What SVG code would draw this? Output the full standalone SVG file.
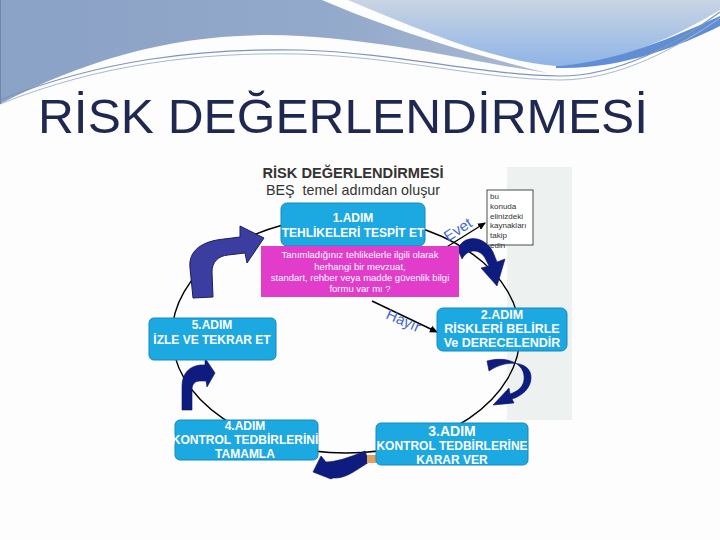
<svg xmlns="http://www.w3.org/2000/svg" width="720" height="540" viewBox="0 0 720 540">
<defs>
<linearGradient id="gL" x1="0" y1="0" x2="1" y2="0">
<stop offset="0" stop-color="#8aa2c6"/><stop offset="0.6" stop-color="#93a9cb"/><stop offset="1" stop-color="#a8b9d2"/>
</linearGradient>
<linearGradient id="gR" x1="0" y1="0" x2="0" y2="1">
<stop offset="0" stop-color="#c9d5e3"/><stop offset="1" stop-color="#8fb4e6"/>
</linearGradient>
<marker id="ah" markerWidth="8" markerHeight="8" refX="7" refY="4" orient="auto" markerUnits="userSpaceOnUse">
<path d="M0,0.5 L8,4 L0,7.5 Z" fill="#000"/>
</marker>
<style>
.node rect{fill:#1ca8e1;stroke:#1689bd;stroke-width:1}
.nt{font-family:"Liberation Sans",Arial,sans-serif;font-weight:bold;fill:#fff;text-anchor:middle;font-size:12px}
.pt{font-family:"Liberation Sans",Arial,sans-serif;fill:#fff;text-anchor:middle;font-size:9.5px}
.lbl{font-family:"Liberation Sans",Arial,sans-serif;fill:#4169d6;font-size:15px}
.sm{font-family:"Liberation Sans",Arial,sans-serif;fill:#333;font-size:8px}
.ba{fill:#0e1c80;stroke:#0a1460;stroke-width:0.6}
</style>
</defs>
<rect width="720" height="540" fill="#fdfdfd"/>
<!-- top banner -->
<path d="M0,0 L322,0 C380,25 460,52 548,73 C470,62 400,42 300,36 C190,30 95,55 0,104 Z" fill="url(#gL)"/>
<path d="M348,0 L720,0 L720,10 C680,34 620,64 556,66 C490,60 420,30 348,0 Z" fill="url(#gR)"/>
<path d="M556,66 C620,62 680,34 720,16 L720,26 C680,46 620,70 556,68 Z" fill="#5f8ed4"/>
<path d="M0,100 C100,60 200,48 300,50 C400,53 480,75 560,76 C620,76 680,42 720,12" fill="none" stroke="#7f95b8" stroke-width="1.2"/>
<path d="M0,104 C100,64 200,52 300,54 C400,57 480,79 560,80 C620,80 680,46 720,18" fill="none" stroke="#a9b8cf" stroke-width="1"/>
<line x1="0" y1="0" x2="0" y2="104" stroke="#6f86aa" stroke-width="2"/>
<text x="38" y="133" font-family="'Liberation Sans',Arial,sans-serif" font-size="49" fill="#1f2850" textLength="610" lengthAdjust="spacingAndGlyphs">RİSK DEĞERLENDİRMESİ</text>
<!-- diagram backdrop -->
<rect x="507" y="167" width="65" height="253" fill="#edf2f1"/>
<text x="353" y="178" font-family="'Liberation Sans',Arial,sans-serif" font-size="14.5" font-weight="bold" fill="#333" text-anchor="middle" textLength="181" lengthAdjust="spacingAndGlyphs">RİSK DEĞERLENDİRMESİ</text>
<text x="353" y="195" font-family="'Liberation Sans',Arial,sans-serif" font-size="14.3" fill="#333" text-anchor="middle" xml:space="preserve">BEŞ  temel adımdan oluşur</text>
<!-- connectors -->
<g id="connectors">
<ellipse cx="346" cy="335" rx="174" ry="118" fill="none" stroke="#000" stroke-width="1.4"/>
<line x1="437" y1="253" x2="485" y2="223" stroke="#000" stroke-width="1.4" marker-end="url(#ah)"/>
<line x1="372" y1="301" x2="437" y2="332" stroke="#000" stroke-width="1.4" marker-end="url(#ah)"/>
<path d="M193,298 L190,268 C188,250 203,241 224,239 L240,237 L240,226 L264,238 L247,263 L245,253 L228,255 C218,256 212,262 212,272 L213,297 Z" fill="#3b3ea0" stroke="#1c1e5c" stroke-width="1"/>
<path class="ba" d="M458,250 C461,236 483,233 493,252 L497,262 L505,259 L497,286 L481,268 L489,266 L485,258 C480,249 468,248 462,259 Z"/>
<path class="ba" d="M487,361 C505,356 526,362 524,380 C523,388 516,392 510,394 L509,388 L493,405 L514,403 L512,399 C522,396 531,388 531,378 C532,362 508,358 489,371 Z"/>
<path class="ba" d="M365,451 L369,462 C355,471 345,479 333,478 L331,479 L313,472 L321,456 L326,462 C335,462 348,458 365,451 Z"/>
<path class="ba" d="M182,410 L182,386 C182,373 190,366 200,365 L205,365 L205,358 L215,373 L207,387 L206,381 L200,381 C195,381 192,384 192,390 L192,410 Z"/>
<rect x="367" y="455" width="9" height="8" fill="#e0a060"/>
</g>
<!-- nodes -->
<g id="step1" class="node">
<rect x="281" y="203" width="144" height="43" rx="6"/>
<text class="nt" x="353" y="222">1.ADIM</text>
<text class="nt" x="353" y="237">TEHLİKELERİ TESPİT ET</text>
</g>
<g id="question">
<rect x="261" y="246" width="198" height="51" fill="#e23ccb"/>
<text class="pt" x="360" y="258">Tanımladığınız tehlikelerle ilgili olarak</text>
<text class="pt" x="360" y="270">herhangi bir mevzuat,</text>
<text class="pt" x="360" y="281">standart, rehber veya madde güvenlik bilgi</text>
<text class="pt" x="360" y="292">formu var mı ?</text>
</g>
<g id="evet"><text class="lbl" transform="translate(448,242) rotate(-33)">Evet</text></g>
<g id="hayir"><text class="lbl" transform="translate(385,318) rotate(24)">Hayır</text></g>
<g id="note">
<rect x="487" y="190" width="46" height="55" fill="#fff" stroke="#222" stroke-width="0.8"/>
<text class="sm" x="490" y="199">bu</text>
<text class="sm" x="490" y="209">konuda</text>
<text class="sm" x="490" y="219">elinizdeki</text>
<text class="sm" x="490" y="228">kaynakları</text>
<text class="sm" x="490" y="238">takip</text>
<text class="sm" x="490" y="248">edin</text>
</g>
<g id="step2" class="node">
<rect x="437" y="308" width="130" height="43" rx="6"/>
<text class="nt" x="502" y="319" style="font-size:12.5px">2.ADIM</text>
<text class="nt" x="502" y="333" style="font-size:12.5px">RİSKLERİ BELİRLE</text>
<text class="nt" x="502" y="347" style="font-size:12.5px">Ve DERECELENDİR</text>
</g>
<g id="step5" class="node">
<rect x="149" y="318" width="127" height="42" rx="5"/>
<text class="nt" x="212" y="329">5.ADIM</text>
<text class="nt" x="212" y="344">İZLE VE TEKRAR ET</text>
</g>
<g id="step4" class="node">
<rect x="175" y="420" width="143" height="40" rx="5"/>
<text class="nt" x="245" y="430">4.ADIM</text>
<text class="nt" x="245" y="444">KONTROL TEDBİRLERİNİ</text>
<text class="nt" x="245" y="458">TAMAMLA</text>
</g>
<g id="step3" class="node">
<rect x="376" y="423" width="152" height="42" rx="5"/>
<text class="nt" x="452" y="436" style="font-size:14px">3.ADIM</text>
<text class="nt" x="452" y="450">KONTROL TEDBİRLERİNE</text>
<text class="nt" x="452" y="464">KARAR VER</text>
</g>
</svg>
